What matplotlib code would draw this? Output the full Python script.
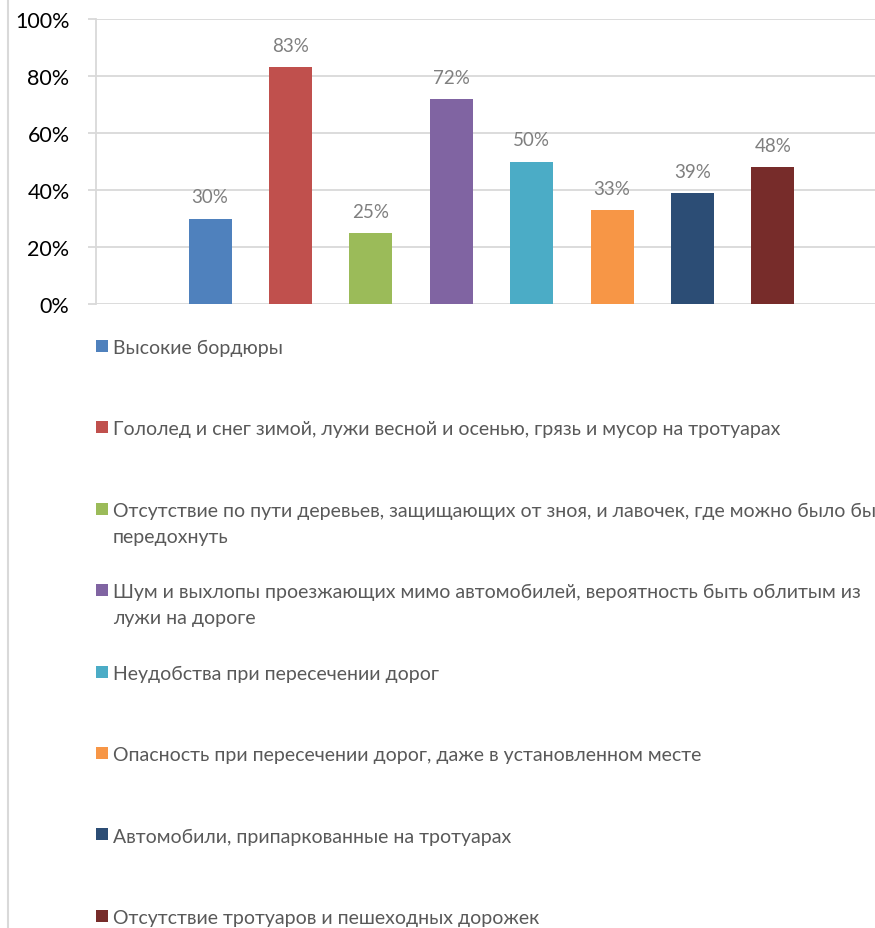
import matplotlib
matplotlib.use("Agg")
import matplotlib.pyplot as plt
from matplotlib.patches import Rectangle
from matplotlib.lines import Line2D
from matplotlib.ticker import PercentFormatter

plt.rcParams['font.family'] = ['Lato', 'DejaVu Sans']

categories = [
    "Высокие бордюры",
    "Гололед и снег зимой, лужи весной и осенью, грязь и мусор на тротуарах",
    "Отсутствие по пути деревьев, защищающих от зноя, и лавочек, где можно было бы\nпередохнуть",
    "Шум и выхлопы проезжающих мимо автомобилей, вероятность быть облитым из\nлужи на дороге",
    "Неудобства при пересечении дорог",
    "Опасность при пересечении дорог, даже в установленном месте",
    "Автомобили, припаркованные на тротуарах",
    "Отсутствие тротуаров и пешеходных дорожек",
]
values = [0.30, 0.83, 0.25, 0.72, 0.50, 0.33, 0.39, 0.48]
colors = ["#4F81BD", "#C0504D", "#9BBB59", "#8064A2", "#4BACC6", "#F79646", "#2C4D75", "#772C2A"]
yticks = [0, 0.2, 0.4, 0.6, 0.8, 1.0]

W, H = 875, 929
fig = plt.figure(figsize=(W / 100, H / 100), dpi=100)
ax = fig.add_axes([96 / W, 1 - 305 / H, 779 / W, 285 / H])

x = list(range(len(values)))
bars = ax.bar(x, values, width=0.535, color=colors, zorder=3)
for xi, v in zip(x, values):
    ax.annotate(f"{round(v * 100):d}%", (xi, v), xytext=(0, 9.5), textcoords="offset points",
                ha="center", va="bottom", fontsize=13.5, color="#7F7F7F")

ax.set_xlim(-1.418, 8.27)
ax.set_ylim(0, 1.0)
ax.set_yticks(yticks)
ax.yaxis.set_major_formatter(PercentFormatter(1.0, decimals=0))
ax.set_xticks([])
ax.grid(axis="y", color="#D9D9D9", linewidth=1.3, zorder=0)
for s in ["top", "right", "bottom"]:
    ax.spines[s].set_visible(False)
ax.spines["left"].set_color("#D9D9D9")
ax.spines["left"].set_linewidth(1.3)
ax.tick_params(axis="y", length=6, width=1.3, color="#D9D9D9", pad=13, labelsize=15.5, labelcolor="#000000")

# chart border on the left
fig.add_artist(Line2D([7.5 / W, 7.5 / W], [0, 1], transform=fig.transFigure, color="#D9D9D9", linewidth=1.5))

# legend
y0, step = 347, 81.4
for i, (lab, c) in enumerate(zip(categories, colors)):
    yc = y0 + i * step
    fig.add_artist(Rectangle((96 / W, 1 - (yc + 6) / H), 12 / W, 12 / H, transform=fig.transFigure,
                             facecolor=c, edgecolor="none"))
    fig.text(113 / W, 1 - (yc - 7) / H, lab, ha="left", va="top", fontsize=14, color="#595959",
             linespacing=1.62)

fig.savefig("out.png", dpi=100, facecolor="white")
